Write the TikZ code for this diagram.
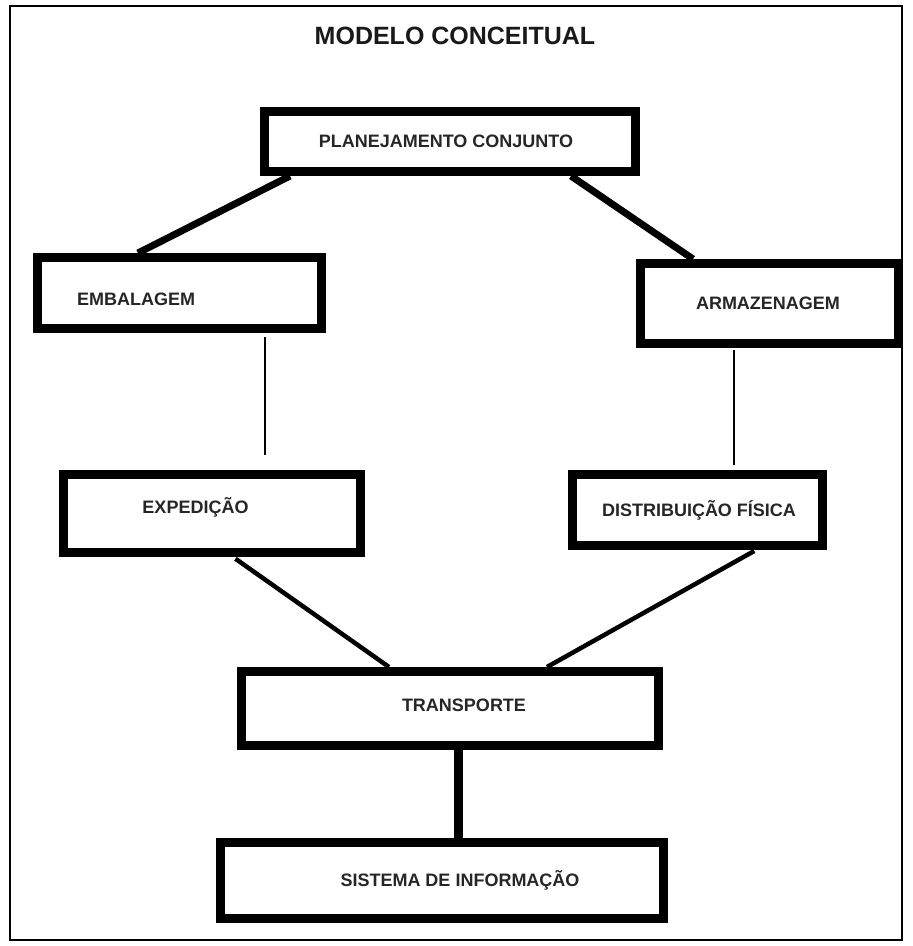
\documentclass[tikz,border=0pt]{standalone}
\usepackage{fontspec}
\setmainfont{Liberation Sans}
\begin{document}
\begin{tikzpicture}[x=1pt,y=-1pt,
  box/.style={draw=black, line width=9pt, rectangle, inner sep=0pt, fill=white},
  lbl/.style={font=\bfseries\fontsize{18}{18}\selectfont, text=black!85, inner sep=0pt},
  ttl/.style={font=\bfseries\fontsize{25}{25}\selectfont, text=black!90, inner sep=0pt},
  thickc/.style={line width=7pt},
  thinc/.style={line width=2.5pt},
  medc/.style={line width=4.5pt},
  heavyc/.style={line width=9pt}]
\useasboundingbox (0,0) rectangle (913,946);
\fill[white] (0,0) rectangle (913,946);
% outer frame
\draw[line width=2pt] (10,6) rectangle (902,940);
% title
\node[ttl] (title) at (455,36) {MODELO CONCEITUAL};
% boxes
\node[box, minimum width=371pt, minimum height=60pt] (plan) at (450,141.5) {};
\node[box, minimum width=284pt, minimum height=71pt] (emb) at (179.5,293) {};
\node[box, minimum width=258pt, minimum height=80pt] (arm) at (769.5,303.5) {};
\node[box, minimum width=297pt, minimum height=78pt] (exp) at (212,513.5) {};
\node[box, minimum width=250pt, minimum height=71pt] (dist) at (697.5,510) {};
\node[box, minimum width=417pt, minimum height=74pt] (trans) at (450,708.5) {};
\node[box, minimum width=443pt, minimum height=76pt] (sis) at (442,880.5) {};
% labels
\node[lbl] (planT) at (446,141) {PLANEJAMENTO CONJUNTO};
\node[lbl, anchor=west] (embT) at (77,299) {EMBALAGEM};
\node[lbl] (armT) at (768,303) {ARMAZENAGEM};
\node[lbl] (expT) at (195.5,507) {EXPEDIÇÃO};
\node[lbl] (distT) at (699,510) {DISTRIBUIÇÃO FÍSICA};
\node[lbl] (transT) at (464,705) {TRANSPORTE};
\node[lbl] (sisT) at (460,880) {SISTEMA DE INFORMAÇÃO};
% connectors
\draw[thickc] ([xshift=-160pt]plan.south) -- ([xshift=-41.5pt]emb.north);
\draw[thickc] ([xshift=121pt]plan.south) -- ([xshift=-76.5pt]arm.north);
\draw[thinc, shorten <=4pt, shorten >=15pt] ([xshift=85.5pt]emb.south) -- ([xshift=53pt]exp.north);
\draw[thinc, shorten <=2pt, shorten >=5pt] ([xshift=-35.5pt]arm.south) -- ([xshift=36.5pt]dist.north);
\draw[medc, shorten <=3pt] ([xshift=21pt]exp.south) -- ([xshift=-61pt]trans.north);
\draw[medc, shorten <=2pt] ([xshift=58.5pt]dist.south) -- ([xshift=97pt]trans.north);
\draw[heavyc] ([xshift=8pt]trans.south) -- ([xshift=16pt]sis.north);
\end{tikzpicture}
\end{document}
